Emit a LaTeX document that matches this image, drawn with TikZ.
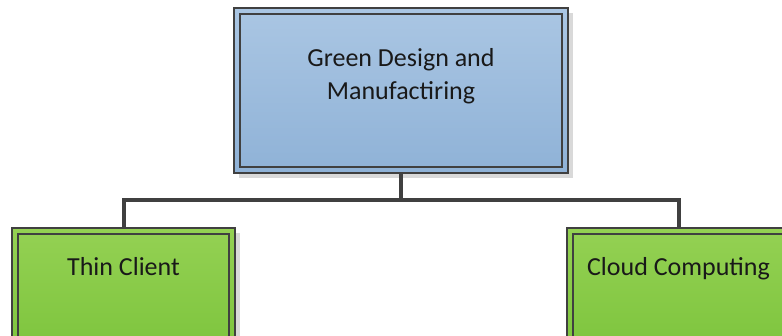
\documentclass[tikz,border=0pt]{standalone}
\usepackage{fontspec}
\setmainfont{Carlito}
\usepackage{tikz}
\usetikzlibrary{positioning}
\usetikzlibrary{shadows}

\definecolor{boxblueTop}{RGB}{170,198,227}
\definecolor{boxblueBot}{RGB}{143,178,215}
\definecolor{boxgreenTop}{RGB}{148,209,83}
\definecolor{boxgreenBot}{RGB}{126,197,62}
\definecolor{edgegray}{RGB}{64,64,64}

\begin{document}
\begin{tikzpicture}
  [
    x=1pt,y=1pt,
    box/.style={
      draw=edgegray,
      line width=1.5pt,
      drop shadow={shadow xshift=5pt,shadow yshift=-5pt,fill=black!15,opacity=1},
      path picture={
        \draw [edgegray,line width=1.5pt]
          ([shift={(6pt,6pt)}]path picture bounding box.south west) rectangle
          ([shift={(-6pt,-6pt)}]path picture bounding box.north east);
      },
      font=\fontsize{26}{33}\selectfont
    },
    topbox/.style={box,top color=boxblueTop,bottom color=boxblueBot,
      minimum width=334pt,minimum height=165pt},
    leafbox/.style={box,top color=boxgreenTop,bottom color=boxgreenBot,
      minimum width=223pt,minimum height=120pt},
    leaftext/.style={anchor=center,yshift=-42pt,text height=18pt,text depth=6pt,
      font=\fontsize{26}{33}\selectfont,text=black!90},
    branch/.style={draw=edgegray,line width=4pt},
  ]
    \useasboundingbox (0,0) rectangle (782,335);
    \clip (0,0) rectangle (782,335);
    % root
    \node [topbox,
      label={[anchor=center,yshift=-69pt,align=center,text=black!90,
        font=\fontsize{26}{33}\selectfont]north:{Green Design and\\Manufactiring}}]
      (gdm) at (401,244.5) {};
    % leaves
    \node [leafbox,label={[leaftext]north:{Thin Client}}] (thin) at (123.5,47) {};
    \node [leafbox,label={[leaftext]north:{Cloud Computing}}] (cloud) at (678.5,47) {};
    % branches
    \coordinate (fork) at ([yshift=-26pt]gdm.south);
    \draw [branch] (gdm.south) -- (fork);
    \draw [branch] (fork) -| (thin.north);
    \draw [branch] (fork) -| (cloud.north);
  \end{tikzpicture}
\end{document}
